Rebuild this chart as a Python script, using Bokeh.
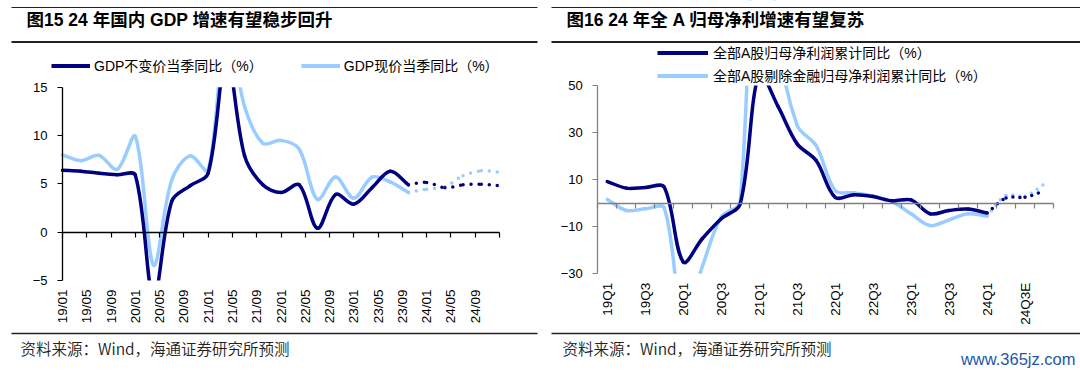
import math
from bokeh.plotting import figure
from bokeh.models import (Range1d, FixedTicker, LinearAxis, Label, BoxAnnotation,
                          Legend, LegendItem, ColumnDataSource)
from bokeh.layouts import row
from bokeh.embed import file_html
from bokeh.resources import INLINE
from bokeh.core.properties import value

# ---------------- data: left chart (GDP, %) ----------------
gdp_dates = ["19/01", "19/04", "19/07", "19/10", "20/01", "20/04", "20/07", "20/10",
             "21/01", "21/04", "21/07", "21/10", "22/01", "22/04", "22/07", "22/10",
             "23/01", "23/04", "23/07", "23/10"]
gdp_real = [6.4, 6.3, 6.1, 5.95, 5.9, -6.8, 3.2, 4.8, 6.1, 18.3, 7.9, 4.9,
            4.1, 4.9, 0.4, 3.9, 2.9, 4.6, 6.3, 4.9]
gdp_nominal = [8.0, 7.4, 7.95, 6.5, 9.9, -3.4, 5.4, 7.9, 6.4, 21.5, 13.0, 9.2,
               9.5, 8.6, 3.4, 5.7, 3.5, 5.7, 5.2, 4.1]
gdp_fc_dates = ["23/10", "24/01", "24/04", "24/07", "24/10", "25/01"]
gdp_real_fc = [4.9, 5.15, 4.6, 4.9, 4.95, 4.8]
gdp_nominal_fc = [4.1, 4.45, 4.7, 5.85, 6.35, 6.2]
gdp_tick_labels = ["19/01", "19/05", "19/09", "20/01", "20/05", "20/09", "21/01", "21/05",
                   "21/09", "22/01", "22/05", "22/09", "23/01", "23/05", "23/09", "24/01",
                   "24/05", "24/09"]
gdp_axis_end = "25/01"
gdp_yticks = [-5, 0, 5, 10, 15]

# ---------------- data: right chart (net profit, %) ----------------
profit_quarters = ["19Q1", "19Q2", "19Q3", "19Q4", "20Q1", "20Q2", "20Q3", "20Q4",
                   "21Q1", "21Q2", "21Q3", "21Q4", "22Q1", "22Q2", "22Q3", "22Q4",
                   "23Q1", "23Q2", "23Q3", "23Q4", "24Q1", "24Q2E", "24Q3E", "24Q4E"]
profit_all = [9.2, 6.4, 6.7, 6.8, -25.0, -15.1, -6.6, -0.3, 55.0, 41.0, 25.2, 18.1,
              2.5, 3.6, 2.8, 1.0, 1.4, -4.5, -3.1, -2.5, -4.2]
profit_exfin = [1.6, -3.1, -2.4, -2.1, -50.0, -27.0, -5.9, 0.4, 180.0, 70.0, 33.0, 24.5,
                5.4, 4.4, 3.0, 0.6, -4.5, -9.5, -7.1, -4.5, -5.5]
profit_fc_quarters = ["24Q1", "24Q2E", "24Q3E", "24Q4E"]
profit_all_fc = [-4.2, 2.2, 2.5, 5.2]
profit_exfin_fc = [-5.5, 3.3, 3.0, 8.0]
profit_tick_labels = ["19Q1", "19Q3", "20Q1", "20Q3", "21Q1", "21Q3", "22Q1", "22Q3",
                      "23Q1", "23Q3", "24Q1", "24Q3E"]
profit_yticks = [-30, -10, 10, 30, 50]

# ---------------- texts ----------------
title_left = "图15 24 年国内 GDP 增速有望稳步回升"
title_right = "图16 24 年全 A 归母净利增速有望复苏"
legend_left = ["GDP不变价当季同比（%）", "GDP现价当季同比（%）"]
legend_right = ["全部A股归母净利润累计同比（%）", "全部A股剔除金融归母净利润累计同比（%）"]
source_text = "资料来源：Wind，海通证券研究所预测"
watermark = "www.365jz.com"

# ---------------- style ----------------
DARK = "#000080"
LIGHT = "#99CCFF"
FONT = "Liberation Sans, Noto Sans CJK SC"
SRC_FONT = "Noto Sans CJK SC DemiLight, Noto Sans CJK SC"
RULE = "#222222"
W, H = 540, 372


def month_index(s):
    yy, mm = s.split("/")
    return (int(yy) - 19) * 12 + int(mm) - 1


def bezier_source(xs, ys, kx, ky, t=1.0 / 3.0):
    n = len(xs)
    cin, cout = [], []
    for i in range(n):
        ip, inx = max(i - 1, 0), min(i + 1, n - 1)
        tx, ty = xs[inx] - xs[ip], ys[inx] - ys[ip]
        dp = math.hypot((xs[i] - xs[ip]) * kx, (ys[i] - ys[ip]) * ky)
        dn = math.hypot((xs[inx] - xs[i]) * kx, (ys[inx] - ys[i]) * ky)
        s = dp + dn if dp + dn > 0 else 1.0
        cin.append((xs[i] - tx * t * dp / s, ys[i] - ty * t * dp / s))
        cout.append((xs[i] + tx * t * dn / s, ys[i] + ty * t * dn / s))
    return ColumnDataSource(dict(
        x0=xs[:-1], y0=ys[:-1], x1=xs[1:], y1=ys[1:],
        cx0=[cout[i][0] for i in range(n - 1)], cy0=[cout[i][1] for i in range(n - 1)],
        cx1=[cin[i + 1][0] for i in range(n - 1)], cy1=[cin[i + 1][1] for i in range(n - 1)]))


class Panel:
    """Whole canvas is the frame; the data box sits at given pixel edges."""

    def __init__(self, xlo, xhi, ylo, yhi, px_left, px_right, px_top, px_bottom):
        self.kx = (px_right - px_left) / float(xhi - xlo)
        self.ky = (px_bottom - px_top) / float(yhi - ylo)
        self.x_start = xlo - px_left / self.kx
        self.x_end = self.x_start + W / self.kx
        self.y_end = yhi + px_top / self.ky
        self.y_start = self.y_end - H / self.ky
        self.xlo, self.xhi, self.ylo, self.yhi = xlo, xhi, ylo, yhi
        p = figure(width=W, height=H, x_range=Range1d(self.x_start, self.x_end),
                   y_range=Range1d(self.y_start, self.y_end),
                   output_backend="svg", toolbar_location=None, title_location=None,
                   min_border_left=0, min_border_top=0, min_border_right=0,
                   min_border_bottom=0)
        p.xgrid.visible = False
        p.ygrid.visible = False
        p.outline_line_color = None
        p.background_fill_color = "white"
        p.border_fill_color = "white"
        self.p = p

    def dx(self, px):
        return self.x_start + px / self.kx

    def dy(self, py):
        return self.y_end - py / self.ky

    def curve(self, xs, ys, color, dash=None):
        kw = dict(line_color=color, line_width=3.5, line_cap="round", level="underlay")
        if dash:
            kw["line_dash"] = dash
        self.p.bezier(x0="x0", y0="y0", x1="x1", y1="y1", cx0="cx0", cy0="cy0",
                      cx1="cx1", cy1="cy1", source=bezier_source(xs, ys, self.kx, self.ky),
                      **kw)

    def masks(self):
        # plot-area clipping above the top tick and below the bottom tick
        self.p.add_layout(BoxAnnotation(left=self.x_start, right=self.x_end, bottom=self.yhi,
                                        top=self.y_end, fill_color="white", fill_alpha=1.0,
                                        line_color=None, level="glyph"))
        self.p.add_layout(BoxAnnotation(left=self.x_start, right=self.x_end, top=self.ylo,
                                        bottom=self.y_start, fill_color="white",
                                        fill_alpha=1.0, line_color=None, level="glyph"))

    def axes(self, yticks, xticks, overrides, axis_color, zero_ticks):
        p = self.p
        ya = p.yaxis[0]
        ya.fixed_location = self.xlo
        ya.bounds = (self.ylo, self.yhi)
        ya.ticker = FixedTicker(ticks=yticks)
        ya.axis_line_color = axis_color
        ya.axis_line_width = 1.3
        ya.major_tick_line_color = axis_color
        ya.major_tick_line_width = 1.2
        ya.major_tick_out = 5
        ya.major_tick_in = 0
        ya.minor_tick_line_color = None
        ya.major_label_standoff = 10
        ya.major_label_text_font = "Liberation Sans"
        ya.major_label_text_font_size = "13px"
        ya.major_label_text_color = "#000000"

        xa = p.xaxis[0]
        xa.fixed_location = self.ylo
        xa.ticker = FixedTicker(ticks=xticks)
        xa.major_label_overrides = overrides
        xa.axis_line_color = None
        xa.major_tick_line_color = None
        xa.minor_tick_line_color = None
        xa.major_tick_out = 0
        xa.major_tick_in = 0
        xa.major_label_standoff = 9
        xa.major_label_orientation = math.pi / 2
        xa.major_label_text_font = "Liberation Sans"
        xa.major_label_text_font_size = "13.5px"
        xa.major_label_text_color = "#000000"

        za = LinearAxis(fixed_location=0, bounds=(self.xlo, self.xhi),
                        ticker=FixedTicker(ticks=zero_ticks),
                        axis_line_color=axis_color, axis_line_width=1.3,
                        major_tick_line_color=axis_color, major_tick_line_width=1.2,
                        major_tick_out=5, major_tick_in=0, minor_tick_line_color=None,
                        major_label_standoff=0, major_label_text_font_size="0px",
                        major_label_text_color=None)
        p.add_layout(za, "below")

    def rule(self, x0, x1, yc, th, color=RULE):
        self.p.add_layout(BoxAnnotation(left=self.dx(x0), right=self.dx(x1),
                                        top=self.dy(yc - th / 2.0),
                                        bottom=self.dy(yc + th / 2.0),
                                        fill_color=color, fill_alpha=1.0, line_color=None))

    def text(self, px, py, s, size, color="#000000", style="normal", align="left",
             font=FONT):
        self.p.add_layout(Label(x=self.dx(px), y=self.dy(py), text=s, text_font=font,
                                text_font_size=size, text_font_style=style,
                                text_color=color, text_align=align,
                                text_baseline="middle"))

    def legend(self, labels, colors, anchors, left_px, bottom_px, **kw):
        rs = [self.p.line(x=[ax], y=[ay], line_color=c, line_width=4, level="underlay")
              for c, (ax, ay) in zip(colors, anchors)]
        leg = Legend(items=[LegendItem(label=value(l), renderers=[r])
                            for l, r in zip(labels, rs)],
                     location=(left_px, H - bottom_px), padding=0, margin=0,
                     border_line_color=None, background_fill_alpha=0,
                     label_text_font=FONT, label_text_font_size="14px",
                     label_text_color="#000000", glyph_height=15, label_height=15, **kw)
        self.p.add_layout(leg)


# ======================= LEFT PANEL =======================
x_end1 = month_index(gdp_axis_end)
L = Panel(0, x_end1, gdp_yticks[0], gdp_yticks[-1], 62, 499, 86.7, 280)
gx = [month_index(d) for d in gdp_dates]
gfx = [month_index(d) for d in gdp_fc_dates]
L.curve(gx, gdp_nominal, LIGHT)
L.curve(gx, gdp_real, DARK)
L.curve(gfx, gdp_nominal_fc, LIGHT, dash="0 8")
L.curve(gfx, gdp_real_fc, DARK, dash="0 8")
L.masks()
L.axes(gdp_yticks, [month_index(l) for l in gdp_tick_labels],
       {month_index(l): l for l in gdp_tick_labels}, "#000000",
       list(range(0, x_end1 + 1, 4)))
L.legend(legend_left, [DARK, LIGHT], [(gx[0], gdp_real[0]), (gx[0], gdp_nominal[0])],
         51, 75, orientation="horizontal", glyph_width=39, label_standoff=4, spacing=38)
L.rule(11, 537, 7, 1.2)
L.text(26, 19.5, title_left, "17.5px", style="bold")
L.rule(11, 537, 41.5, 1.8)
L.rule(11, 537, 333, 1.5)
L.text(20, 347, source_text, "15.5px", color="#222222", font=SRC_FONT)

# ======================= RIGHT PANEL =======================
nq = len(profit_quarters)
R = Panel(-0.5, nq - 0.5, profit_yticks[0], profit_yticks[-1], 57.3, 513, 85, 273.3)
px_all = [profit_quarters.index(q) for q in profit_quarters[:len(profit_all)]]
pfx = [profit_quarters.index(q) for q in profit_fc_quarters]
R.curve(px_all, profit_exfin, LIGHT)
R.curve(px_all, profit_all, DARK)
R.curve(pfx, profit_exfin_fc, LIGHT, dash="0 7")
R.curve(pfx, profit_all_fc, DARK, dash="0 7")
R.masks()
R.axes(profit_yticks, [profit_quarters.index(l) for l in profit_tick_labels],
       {profit_quarters.index(l): l for l in profit_tick_labels}, "#808080",
       [i - 0.5 for i in range(nq + 1)])
R.legend(legend_right, [DARK, LIGHT], [(0, profit_all[0]), (0, profit_exfin[0])],
         117, 85, orientation="vertical", glyph_width=51, label_standoff=5, spacing=3)
R.rule(11, 540, 7, 1.2)
R.text(26, 19.5, title_right, "17.5px", style="bold")
R.rule(11, 540, 41.5, 1.8)
R.rule(11, 540, 333, 1.5)
R.text(22, 347, source_text, "15.5px", color="#222222", font=SRC_FONT)
R.text(535, 358, watermark, "16.5px", color="#2456A8", align="right",
       font="Liberation Sans Narrow, Liberation Sans")

layout = row(L.p, R.p)
with open("out.html", "w", encoding="utf-8") as f:
    f.write(file_html(layout, INLINE, "chart"))
